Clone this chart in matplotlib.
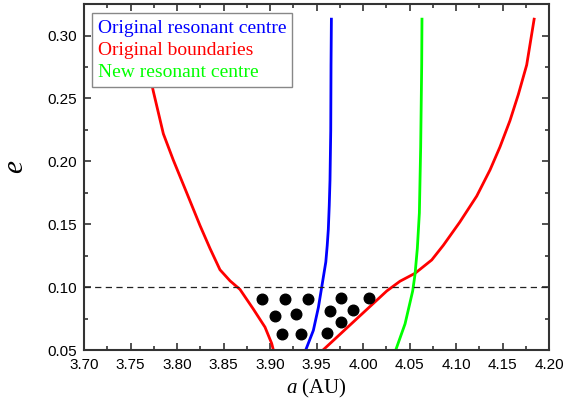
"""Resonance width in (a, e) plane: original vs new resonant centre."""

import matplotlib

matplotlib.use("Agg")
import matplotlib.pyplot as plt
from matplotlib.lines import Line2D

# left boundary of the original resonance
red_left_a = [3.759, 3.766, 3.7745, 3.7853, 3.796, 3.8104, 3.8247, 3.8355, 3.8462,
              3.857, 3.8677, 3.882, 3.8946, 3.9018, 3.9036]
red_left_e = [0.313, 0.285, 0.2557, 0.2219, 0.201, 0.175, 0.149, 0.1307, 0.1138,
              0.105, 0.0982, 0.0826, 0.0682, 0.0552, 0.05]

# right boundary
red_right_a = [3.957, 4.0255, 4.0398, 4.056, 4.0739, 4.0864, 4.104, 4.1223, 4.1366,
               4.1473, 4.158, 4.167, 4.176, 4.184]
red_right_e = [0.05, 0.0969, 0.1047, 0.111, 0.1216, 0.1333, 0.1516, 0.1724, 0.1932,
               0.2115, 0.2323, 0.2531, 0.2766, 0.313]

blue_a = [3.9384, 3.9466, 3.952, 3.9556, 3.960, 3.9615, 3.9627, 3.9637, 3.9645,
          3.9653, 3.9656, 3.966]
blue_e = [0.05, 0.0656, 0.0838, 0.100, 0.120, 0.133, 0.146, 0.165, 0.185,
          0.2245, 0.2766, 0.313]

green_a = [4.0352, 4.0452, 4.0534, 4.0559, 4.0584, 4.0606, 4.062, 4.0631, 4.0634]
green_e = [0.05, 0.0708, 0.0969, 0.110, 0.1307, 0.159, 0.2115, 0.2766, 0.313]

dots_a = [3.891, 3.916, 3.941, 3.976, 4.006, 3.905, 3.928, 3.965, 3.989,
          3.913, 3.933, 3.961, 3.976]
dots_e = [0.0904, 0.0904, 0.0904, 0.0917, 0.0917, 0.0773, 0.0787, 0.0812, 0.0820,
          0.0630, 0.0630, 0.0638, 0.0721]

e_limit = 0.10
x_ticks = [3.70, 3.75, 3.80, 3.85, 3.90, 3.95, 4.00, 4.05, 4.10, 4.15, 4.20]
y_ticks = [0.05, 0.10, 0.15, 0.20, 0.25, 0.30]

plt.rcParams["font.family"] = ["Liberation Sans", "DejaVu Sans"]
plt.rcParams["mathtext.fontset"] = "custom"
plt.rcParams["mathtext.rm"] = "Liberation Serif"
plt.rcParams["mathtext.it"] = "Liberation Serif:italic"

fig = plt.figure(figsize=(5.65, 4.07), dpi=100)
ax = fig.add_axes([0.1487, 0.140, 0.823, 0.850])

ax.plot(red_left_a, red_left_e, color="#ff0000", lw=2)
ax.plot(red_right_a, red_right_e, color="#ff0000", lw=2)
ax.plot(blue_a, blue_e, color="#0000ff", lw=2)
ax.plot(green_a, green_e, color="#00ff00", lw=2)
ax.axhline(e_limit, color="#222222", lw=0.9, ls=(0, (5, 3.5)))
ax.scatter(dots_a, dots_e, s=58, color="black", zorder=3)

ax.set_xlim(3.70, 4.20)
ax.set_ylim(0.05, 0.32)
ax.set_xticks(x_ticks)
ax.set_xticklabels([f"{v:.2f}" for v in x_ticks])
ax.set_yticks(y_ticks)
ax.set_yticklabels([f"{v:.2f}" for v in y_ticks])
ax.set_xticks([v + 0.025 for v in x_ticks[:-1]], minor=True)
ax.set_yticks([v + 0.025 for v in y_ticks], minor=True)
ax.tick_params(which="both", direction="in", top=True, right=True,
               color="#333333", labelsize=11)
ax.tick_params(which="major", length=5, width=1.2)
ax.tick_params(which="minor", length=3, width=1.2)
ax.tick_params(axis="x", which="major", pad=6)
ax.tick_params(axis="y", which="major", pad=5)
for sp in ax.spines.values():
    sp.set_linewidth(1.5)
    sp.set_color("#333333")

ax.set_xlabel(r"$a$ (AU)", family="Liberation Serif", fontsize=15, labelpad=3)
ax.set_ylabel(r"$e$", fontsize=21)
ax.yaxis.set_label_coords(-0.118, 0.53)

handles = [
    Line2D([], [], color="#0000ff", label="Original resonant centre"),
    Line2D([], [], color="#ff0000", label="Original boundaries"),
    Line2D([], [], color="#00ff00", label="New resonant centre"),
]
leg = ax.legend(handles=handles, loc="upper left", bbox_to_anchor=(0.017, 0.974),
                borderaxespad=0, handlelength=0, handletextpad=0, fancybox=False,
                framealpha=1, edgecolor="#888888",
                prop={"family": "Liberation Serif", "size": 14},
                labelspacing=0.25, borderpad=0.3)
leg.get_frame().set_linewidth(1.0)
for txt, h in zip(leg.get_texts(), leg.legend_handles):
    txt.set_color(h.get_color())
    h.set_visible(False)

fig.savefig("out.png", dpi=100)
